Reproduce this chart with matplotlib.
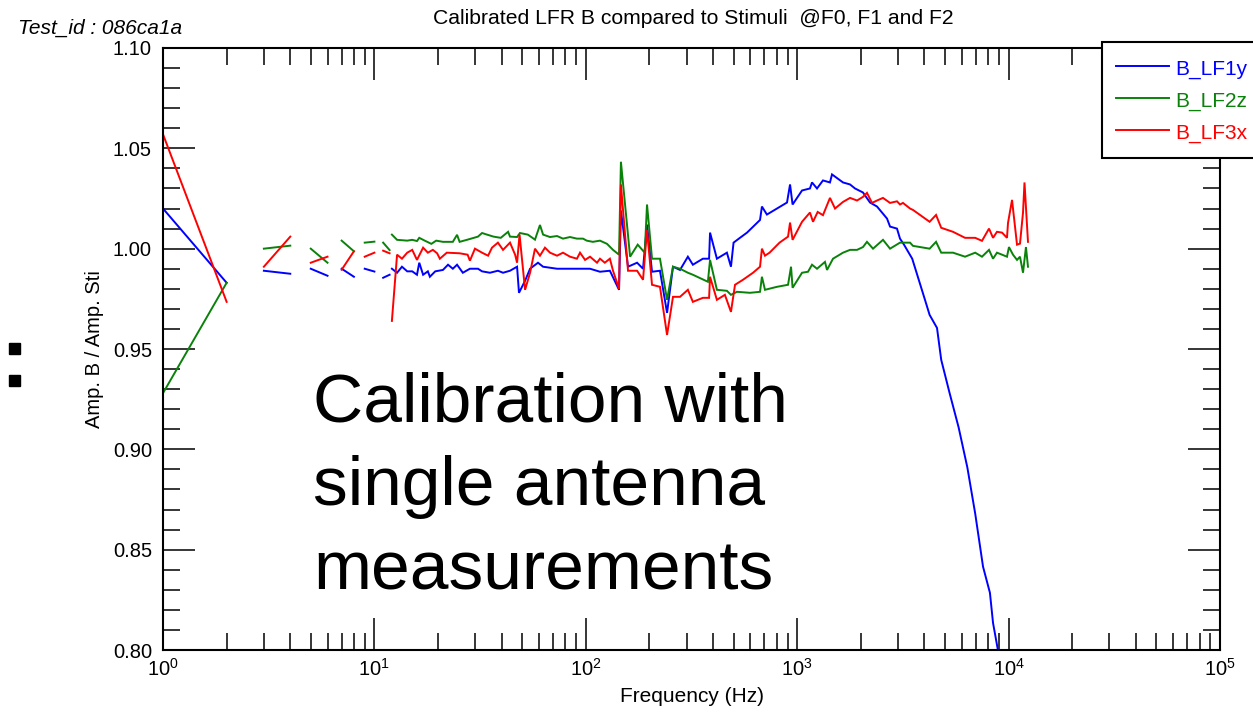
import numpy as np
import matplotlib
matplotlib.use("Agg")
import matplotlib.pyplot as plt
from matplotlib.ticker import MultipleLocator, LogLocator, FormatStrFormatter, NullFormatter
from matplotlib.patches import Rectangle

plt.rcParams['font.family'] = ['Liberation Sans', 'DejaVu Sans']
plt.rcParams['mathtext.fontset'] = 'custom'
plt.rcParams['mathtext.rm'] = 'Liberation Sans'
plt.rcParams['mathtext.it'] = 'Liberation Sans:italic'

nan = np.nan

# ---- data ----
series_names = ["B_LF1y", "B_LF2z", "B_LF3x"]
series_colors = ["#0000ff", "#0a820a", "#ff0000"]

b_f = [1, 2, 2.5, 3, 4, 4.5, 5, 6, 6.5, 7, 8, 8.5, 9, 10, 10.5, 11, 11.8, 12.0, 12.1, 12.8,
       13.5, 14.3, 15.1, 15.9, 16.3, 17.0, 17.9, 18.3, 19.4, 21.1, 22.3, 23.5, 24.6, 26.2, 28.3,
       30.9, 32.3, 35.2, 38.4, 40.6, 43.8, 47.3, 48.3, 51.6, 54.5, 59.4, 62.8, 73.1, 78.0, 90.8,
       104.7, 116.7, 130, 143.6, 146.6, 158.4, 174.8, 186.5, 194.8, 205.7, 224.3, 242.3, 258.5,
       279, 304, 321, 358, 383, 387, 417, 465, 486, 500, 536, 579, 667, 681, 719, 895, 925, 951,
       1054, 1149, 1175, 1241, 1324, 1429, 1461, 1647, 1778, 1877, 2047, 2210, 2385, 2660, 2749,
       2965, 3064, 3200, 3500, 4022, 4230, 4585, 4800, 5260, 5800, 6380, 6950, 7570, 8160, 8440,
       8900]
b_v = [1.020, 0.983, nan, 0.989, 0.9875, nan, 0.990, 0.9865, nan, 0.990, 0.986, nan, 0.990,
       0.9886, nan, 0.9855, 0.987, nan, 0.990, 0.988, 0.991, 0.9887, 0.9887, 0.987, 0.993, 0.987,
       0.9887, 0.986, 0.9887, 0.9894, 0.992, 0.990, 0.992, 0.988, 0.990, 0.990, 0.9887, 0.988,
       0.989, 0.988, 0.989, 0.991, 0.978, 0.984, 0.990, 0.993, 0.991, 0.990, 0.990, 0.990, 0.990,
       0.9885, 0.989, 0.9795, 1.019, 0.991, 0.993, 0.990, 1.012, 0.9885, 0.989, 0.968, 0.991,
       0.9894, 0.996, 0.992, 0.995, 0.995, 1.008, 0.995, 0.998, 0.991, 1.003, 1.0054, 1.008,
       1.0143, 1.021, 1.017, 1.023, 1.032, 1.022, 1.029, 1.030, 1.033, 1.030, 1.034, 1.033, 1.037,
       1.033, 1.032, 1.030, 1.028, 1.023, 1.021, 1.015, 1.011, 1.010, 1.005, 1.002, 0.995, 0.9745,
       0.967, 0.9605, 0.9446, 0.928, 0.911, 0.891, 0.868, 0.8415, 0.8285, 0.8135, 0.800]

g_f = [1, 2, 2.5, 3, 4, 4.5, 5, 6, 6.5, 7, 8, 8.5, 9, 10, 10.5, 11, 11.8, 12.0, 12.1, 12.8,
       14.3, 15.1, 15.9, 16.3, 17.3, 18.6, 19.6, 21.1, 23.5, 24.6, 25.3, 27.6, 30.9, 32.3, 34.1,
       36.6, 39.6, 42.9, 43.8, 47.3, 48.8, 53.2, 57.5, 60.7, 62.8, 67.7, 73.1, 78, 84.2, 90.8, 97,
       101, 108, 116.7, 126, 134.5, 143.6, 146.6, 162, 176, 190, 194.8, 205.7, 224.3, 242.3,
       258.5, 279, 304, 321, 378, 387, 417, 465, 486, 519, 598, 667, 681, 704, 803, 905, 935, 951,
       1054, 1125, 1175, 1241, 1353, 1384, 1477, 1647, 1778, 1919, 2047, 2138, 2284, 2546, 2749,
       3064, 3418, 3530, 4230, 4537, 4800, 5458, 6223, 6950, 7484, 8078, 8440, 8810, 9310, 9826,
       10040, 10490, 10960, 11320, 11700, 12080, 12350]
g_v = [0.928, 0.983, nan, 1.000, 1.0015, nan, 1.000, 0.993, nan, 1.004, 0.9987, nan, 1.003,
       1.0035, nan, 1.003, 0.9993, nan, 1.007, 1.0044, 1.004, 1.0044, 1.0038, 1.0054, 1.004,
       1.0024, 1.004, 1.0034, 1.0034, 1.0069, 1.0034, 1.0045, 1.006, 1.0078, 1.007, 1.006,
       1.0054, 1.0084, 1.006, 1.0058, 1.0078, 1.007, 1.0045, 1.0118, 1.007, 1.0058, 1.0063,
       1.005, 1.0058, 1.005, 1.005, 1.004, 1.0034, 1.004, 1.0024, 0.9994, 0.997, 1.0433, 0.996,
       1.002, 0.998, 1.022, 0.995, 0.995, 0.9745, 0.991, 0.990, 0.988, 0.987, 0.9835, 0.9944,
       0.9795, 0.979, 0.977, 0.9785, 0.978, 0.9785, 0.986, 0.9795, 0.981, 0.982, 0.991, 0.9805,
       0.988, 0.9885, 0.992, 0.990, 0.9934, 0.9894, 0.995, 0.998, 0.9994, 0.9994, 1.0008, 1.0034,
       1.0, 1.0044, 1.0, 1.003, 1.003, 1.0014, 1.0, 1.0034, 0.998, 0.998, 0.996, 0.998, 0.996,
       0.9994, 0.995, 0.998, 0.997, 0.996, 1.0008, 0.997, 0.9944, 0.996, 0.988, 1.0008, 0.991]

r_f = [1, 2, 2.5, 3, 4, 4.5, 5, 6, 6.5, 7, 8, 8.5, 9, 10, 10.5, 11, 11.8, 12.0, 12.1, 12.8,
       13.5, 14.3, 15.1, 15.9, 17.0, 17.9, 18.9, 19.8, 20.4, 22.0, 25.3, 27.6, 28.3, 29.9, 32.3,
       34.5, 36.0, 38.4, 40.6, 43.8, 46.3, 47.3, 48.6, 51.6, 54.5, 57.5, 60.7, 64.1, 67.7, 73.1,
       78, 84.2, 90.8, 93.9, 99.2, 104.7, 113, 116.7, 123, 130, 134.5, 143.6, 146.6, 158.4,
       174.8, 186.5, 194.8, 205.7, 224.3, 242.3, 258.5, 279, 304, 321, 358, 383, 387, 417, 455,
       486, 508, 554, 618, 667, 681, 704, 740, 825, 905, 925, 951, 1054, 1149, 1188, 1250, 1324,
       1429, 1510, 1647, 1778, 1919, 2047, 2138, 2259, 2385, 2546, 2749, 2965, 3064, 3165, 3418,
       3530, 4230, 4537, 4800, 5458, 6223, 6950, 7484, 8078, 8440, 8810, 9310, 9826, 9935, 10380,
       10960, 11320, 11700, 11890, 12350]
r_v = [1.057, 0.9735, nan, 0.991, 1.006, nan, 0.993, 0.996, nan, 0.9895, 0.9987, nan, 0.996,
       0.998, nan, 0.999, 0.9977, nan, 0.964, 0.997, 0.995, 0.998, 0.9994, 0.9944, 1.0005, 0.998,
       0.9994, 0.9977, 0.995, 0.998, 0.9977, 0.997, 0.994, 1.0, 0.998, 0.9965, 1.0005, 1.003,
       0.9994, 1.003, 0.997, 0.993, 1.007, 0.9795, 0.988, 1.0, 0.9965, 1.0005, 0.998, 0.9965,
       0.998, 0.996, 0.995, 0.998, 0.9944, 0.996, 0.993, 0.995, 0.993, 0.995, 0.989, 0.980, 1.032,
       0.989, 0.989, 0.9845, 1.0094, 0.982, 0.981, 0.957, 0.976, 0.976, 0.9795, 0.9735, 0.9755,
       0.9755, 0.986, 0.9745, 0.977, 0.9685, 0.982, 0.9845, 0.988, 0.991, 1.0, 0.9965, 0.998,
       1.003, 1.006, 1.013, 1.0044, 1.0134, 1.018, 1.0134, 1.0183, 1.0167, 1.0253, 1.020, 1.0233,
       1.0253, 1.024, 1.0258, 1.0278, 1.0228, 1.024, 1.0253, 1.0228, 1.0236, 1.022, 1.0228, 1.020,
       1.0193, 1.0134, 1.0168, 1.0104, 1.0084, 1.0054, 1.0054, 1.0039, 1.010, 1.0054, 1.0084,
       1.008, 1.0054, 1.0128, 1.0243, 1.002, 1.0025, 1.018, 1.033, 1.0034]

title_text = "Calibrated LFR B compared to Stimuli  @F0, F1 and F2"
test_id_text = "Test_id : 086ca1a"
xlabel_text = "Frequency (Hz)"
ylabel_text = "Amp. B / Amp. Sti"
overlay_text = "Calibration with\nsingle antenna\nmeasurements"

# ---- figure ----
W, H = 1253, 712
fig = plt.figure(figsize=(W / 100, H / 100), dpi=100)
ax = fig.add_axes([163 / W, (H - 650) / H, (1220 - 163) / W, (650 - 48) / H])

for f, v, name, col in zip([b_f, g_f, r_f], [b_v, g_v, r_v], series_names, series_colors):
    ax.plot(f, v, color=col, lw=1.4, label=name, solid_joinstyle='miter')

ax.set_xscale('log')
ax.set_xlim(1, 1e5)
ax.set_ylim(0.80, 1.10)
ax.yaxis.set_major_locator(MultipleLocator(0.05))
ax.yaxis.set_minor_locator(MultipleLocator(0.01))
ax.yaxis.set_major_formatter(FormatStrFormatter('%.2f'))
ax.xaxis.set_major_locator(LogLocator(base=10))
ax.xaxis.set_minor_locator(LogLocator(base=10, subs=range(2, 10), numticks=50))
ax.xaxis.set_minor_formatter(NullFormatter())

ax.tick_params(which='both', direction='in', top=True, right=True, color='black', width=1.1)
ax.tick_params(which='major', length=23, labelsize=14.5)
ax.tick_params(which='minor', length=12)
ax.tick_params(axis='y', which='major', pad=8)
ax.tick_params(axis='x', which='major', pad=6)
for s in ax.spines.values():
    s.set_linewidth(1.5)
    s.set_color('black')

leg = fig.legend(loc='upper left', bbox_to_anchor=(1102 / W, 1 - 42 / H),
                 bbox_transform=fig.transFigure, fontsize=15, frameon=True, fancybox=False,
                 framealpha=1, edgecolor='black', handlelength=2.55, handleheight=1.4,
                 handletextpad=0.3, borderpad=0.68, labelspacing=0.38, borderaxespad=0,
                 labelcolor='linecolor')
leg.get_frame().set_linewidth(1.5)

fig.text(693 / W, 1 - 18 / H, title_text, ha='center', va='center', fontsize=15.2)
fig.text(18 / W, 1 - 28 / H, test_id_text, ha='left', va='center', fontsize=15, style='italic')
fig.text(95 / W, 1 - 349 / H, ylabel_text, ha='center', va='center', rotation=90, fontsize=14.5)
fig.text(692 / W, 1 - 696 / H, xlabel_text, ha='center', va='center', fontsize=15)
fig.text(313 / W, 1 - 371 / H, overlay_text, ha='left', va='top', fontsize=50, linespacing=1.40)

for cy in (348, 380):
    fig.add_artist(Rectangle((8.5 / W, 1 - (cy + 5.5) / H), 11 / W, 11 / H,
                             transform=fig.transFigure, color='black'))

fig.savefig('out.png', dpi=100)
